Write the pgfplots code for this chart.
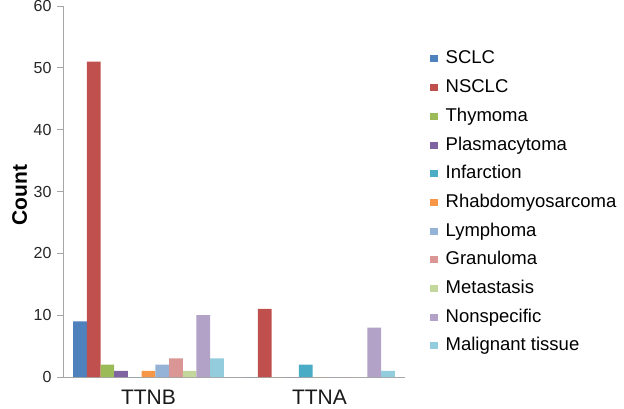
\documentclass[border=0pt]{standalone}
\usepackage{pgfplots}
\pgfplotsset{compat=1.18}
\usepackage{fontspec}
\setmainfont{Liberation Sans}
\definecolor{c1}{HTML}{4F81BD}
\definecolor{c2}{HTML}{C0504D}
\definecolor{c3}{HTML}{9BBB59}
\definecolor{c4}{HTML}{8064A2}
\definecolor{c5}{HTML}{4BACC6}
\definecolor{c6}{HTML}{F79646}
\definecolor{c7}{HTML}{95B3D7}
\definecolor{c8}{HTML}{D99694}
\definecolor{c9}{HTML}{C3D69B}
\definecolor{c10}{HTML}{B3A2C7}
\definecolor{c11}{HTML}{93CDDD}
\definecolor{axgray}{HTML}{A6A6A6}
\begin{document}
\begin{tikzpicture}
\path[use as bounding box] (-63pt,-31pt) rectangle (561pt,377pt);
\begin{axis}[
  at={(0,0)}, anchor=south west,
  scale only axis, width=342pt, height=371pt,
  ybar=0pt, bar width=13.7pt,
  xmin=-0.5, xmax=1.5, ymin=0, ymax=60,
  ytick={0,10,...,60},
  xtick={0,1}, xticklabels={TTNB,TTNA},
  extra x ticks={0.5,1.5}, extra x tick labels={},
  extra x tick style={major tick length=7pt, tick style={axgray, line width=0.8pt}},
  major x tick style={draw=none},
  axis x line*=bottom, axis y line*=left,
  axis line style={axgray, line width=0.8pt, -},
  tick style={axgray, line width=0.8pt},
  major tick length=6pt,
  tick align=outside,
  ticklabel style={font=\fontsize{16}{18}\selectfont, text=black!85},
  yticklabel style={xshift=-2pt},
  xticklabel style={font=\fontsize{21}{24}\selectfont, text=black!90, inner sep=0pt, yshift=-7pt},
  /pgf/number format/assume math mode=true,
  ylabel={Count},
  ylabel style={font=\fontsize{21}{24}\selectfont\bfseries, at={(axis description cs:-0.127,0.49)}, anchor=center},
  legend style={at={(axis description cs:1.073,0.882)}, anchor=north west, draw=none, fill=none,
    font=\fontsize{18.5}{20}\selectfont, row sep=10.7pt, legend cell align=left,
    inner sep=0pt, nodes={inner sep=0pt, text height=14pt, text depth=4pt},
    /tikz/every odd column/.append style={column sep=8pt}},
  legend image code/.code={\fill[#1] (0pt,-3.5pt) rectangle (7.5pt,3.5pt);},
  every axis plot/.append style={draw=none},
]
\addplot[fill=c1] coordinates {(0,9) (1,0)};
\addplot[fill=c2] coordinates {(0,51) (1,11)};
\addplot[fill=c3] coordinates {(0,2) (1,0)};
\addplot[fill=c4] coordinates {(0,1) (1,0)};
\addplot[fill=c5] coordinates {(0,0) (1,2)};
\addplot[fill=c6] coordinates {(0,1) (1,0)};
\addplot[fill=c7] coordinates {(0,2) (1,0)};
\addplot[fill=c8] coordinates {(0,3) (1,0)};
\addplot[fill=c9] coordinates {(0,1) (1,0)};
\addplot[fill=c10] coordinates {(0,10) (1,8)};
\addplot[fill=c11] coordinates {(0,3) (1,1)};
\legend{SCLC,NSCLC,Thymoma,Plasmacytoma,Infarction,Rhabdomyosarcoma,Lymphoma,Granuloma,Metastasis,Nonspecific,Malignant tissue}
\end{axis}
\end{tikzpicture}
\end{document}
